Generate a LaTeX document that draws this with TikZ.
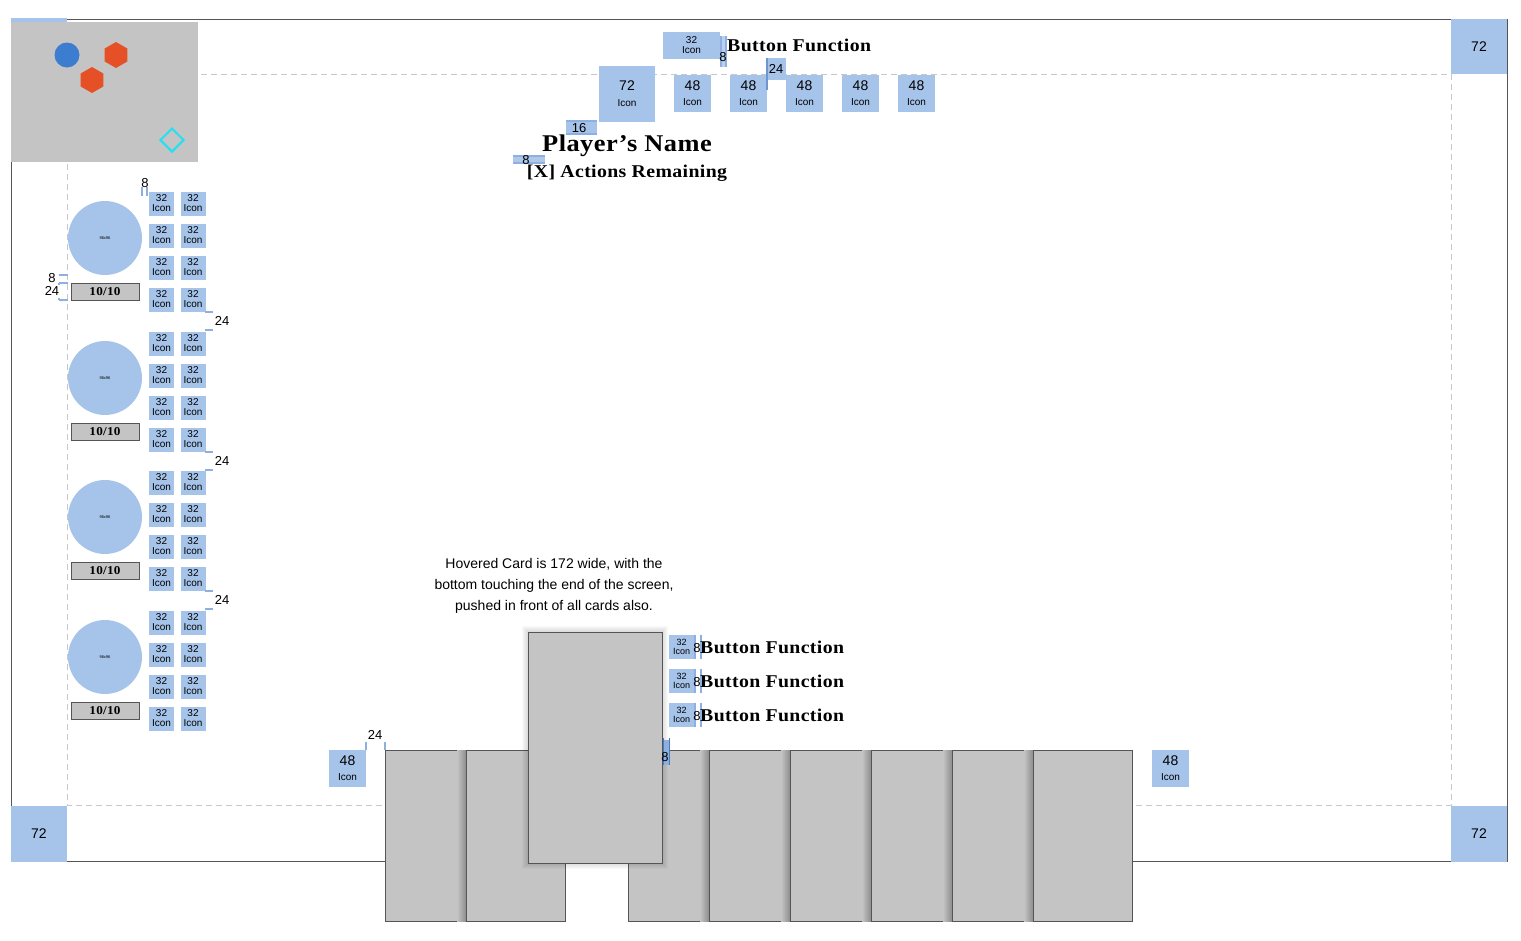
\documentclass[tikz,border=0pt]{standalone}
\usepackage{fontspec}
\setmainfont{Liberation Sans}
\newfontfamily\titlefont[FakeStretch=1.1, LetterSpace=2]{Liberation Serif}
\usetikzlibrary{shapes.geometric}

\definecolor{iconblue}{HTML}{A6C4EA}
\definecolor{markblue}{HTML}{8DB0E0}
\definecolor{darkmark}{HTML}{4A7CC4}
\definecolor{cardgray}{HTML}{C4C4C4}
\definecolor{edgegray}{HTML}{555555}
\definecolor{safegray}{HTML}{C8C8C8}
\definecolor{unitblue}{HTML}{3C7DD0}
\definecolor{enemyred}{HTML}{E55027}
\definecolor{cyanmark}{HTML}{22E0F2}

\tikzset{
  icon/.style={fill=iconblue, inner sep=0pt, align=center, font=\fontsize{10}{10}\selectfont},
  smallicon/.style={icon, minimum width=25pt, minimum height=24pt},
  midicon/.style={icon, minimum size=37pt, font=\fontsize{14}{15}\selectfont},
  bigicon/.style={icon, minimum size=56pt, font=\fontsize{14}{16}\selectfont},
  card/.style={fill=cardgray, draw=edgegray, line width=0.8pt},
  gapmark/.style={markblue, line width=1.2pt},
  gapnum/.style={font=\fontsize{13}{13}\selectfont, inner sep=0pt},
  btntext/.style={font=\titlefont\bfseries\fontsize{18}{18}\selectfont, inner sep=0pt, anchor=west},
  hpbar/.style={fill=cardgray, draw=edgegray, line width=0.8pt, minimum width=68pt, minimum height=17pt,
    inner sep=0pt, font=\titlefont\bfseries\fontsize{12}{12}\selectfont},
}

\begin{document}
\begin{tikzpicture}[x=1pt, y=-1pt]
  \useasboundingbox (0,0) rectangle (1521,940);

  % screen and safe area
  \draw[edgegray, line width=0.9pt] (11,19) rectangle (1507,861);
  \draw[safegray, line width=1pt, dash pattern=on 6pt off 4pt] (67,74) rectangle (1451,805);
  \node[bigicon, minimum height=55pt] (cornerTR) at (1479,46.5) {72};
  \node[bigicon] (cornerBL) at (39,834) {72};
  \node[bigicon] (cornerBR) at (1479,834) {72};
  \fill[iconblue] (11,18) rectangle (67,22);

  % minimap
  \node[fill=cardgray, minimum width=187pt, minimum height=140pt, inner sep=0pt, anchor=north west] (minimap) at (11,22) {};
  \node[circle, fill=unitblue, minimum size=25pt, inner sep=0pt] (unit) at (67,55) {};
  \node[regular polygon, regular polygon sides=6, shape border rotate=30, fill=enemyred, minimum size=26pt, inner sep=0pt] (foeA) at (116,55) {};
  \node[regular polygon, regular polygon sides=6, shape border rotate=30, fill=enemyred, minimum size=26pt, inner sep=0pt] (foeB) at (92,80) {};
  \node[diamond, draw=cyanmark, line width=2pt, minimum size=24pt, inner sep=0pt] (goal) at (172,140) {};

  % top bar
  \node[icon, minimum width=57pt, minimum height=27pt] (topbtn) at (691.5,45.5) {32\\Icon};
  \fill[markblue!60] (720,36) rectangle (727,67);
  \draw[gapmark] (721,36) -- (721,67) (726,36) -- (726,67);
  \node[gapnum] (gapA) at (723,57) {8};
  \node[btntext] (topfn) at (727,45) {Button Function};
  \node[bigicon] (portrait) at (627,94) {72\\{\fontsize{10}{13}\selectfont Icon}};
  \foreach \i/\x in {1/692.5,2/748.5,3/804.5,4/860.5,5/916.5}
    \node[midicon] (act\i) at (\x,93.5) {48\\{\fontsize{10}{12}\selectfont Icon}};
  \fill[iconblue] (767,58) rectangle (786,80);
  \draw[darkmark!80, line width=1.2pt] (767,58) -- (767,90);
  \node[gapnum] (gapB) at (776,69) {24};
  \fill[iconblue] (566,121) rectangle (597,134);
  \draw[gapmark] (566,121) -- (597,121) (566,134) -- (597,134);
  \node[gapnum] (gapC) at (579,128) {16};
  \node[font=\titlefont\bfseries\fontsize{24}{24}\selectfont, inner sep=0pt] (pname) at (627,146) {Player’s Name};
  \fill[markblue!70] (513,156) rectangle (545,163);
  \draw[gapmark] (513,156) -- (545,156) (513,163) -- (545,163);
  \node[gapnum] (gapD) at (526,160) {8};
  \node[font=\titlefont\bfseries\fontsize{18}{18}\selectfont, inner sep=0pt] (actions) at (627,173) {[X] Actions Remaining};

  % party column
  \node[gapnum] (gapE) at (145,183) {8};
  \draw[gapmark] (142,187) -- (142,196) (147,187) -- (147,196);
  \node[gapnum] (gapF) at (52,278) {8};
  \node[gapnum] (gapG) at (52,291) {24};
  \draw[gapmark] (59,275) -- (68,275) (59,283) -- (68,283) (59,300) -- (68,300) (59,283) -- (59,285) (59,300) -- (59,298);
  \foreach \g/\oy in {0/0,1/140,2/279,3/419} {
    \node[circle, fill=iconblue, minimum size=74pt, inner sep=0pt, font=\fontsize{4}{4}\selectfont] (hero\g) at (105,238+\oy) {96x96};
    \node[hpbar] (hp\g) at (105,291.5+\oy) {10/10};
    \foreach \c/\x in {0/161.5,1/193}
      \foreach \r in {0,...,3}
        \node[smallicon] (buff\g\c\r) at (\x,203.5+32*\r+\oy) {32\\Icon};
  }
  \foreach \oy in {0,140,279} {
    \draw[gapmark] (205,312+\oy) -- (213,312+\oy) (205,330+\oy) -- (213,330+\oy);
    \node[gapnum] at (222,321+\oy) {24};
  }

  % hand of cards
  \node[midicon] (deck) at (347.5,768.5) {48\\{\fontsize{10}{12}\selectfont Icon}};
  \node[midicon] (discard) at (1170.5,768.5) {48\\{\fontsize{10}{12}\selectfont Icon}};
  \draw[gapmark] (366,742) -- (366,750) (385,742) -- (385,750);
  \node[gapnum] (gapH) at (375,735) {24};
  \foreach \x in {385,466,628,709,790,871,952,1033} {
    \ifnum\x=385\else\ifnum\x=628\else
      \shade[left color=cardgray, right color=black!45] (\x-9,750) rectangle (\x,921);
    \fi\fi
    \draw[card] (\x,750) rectangle (\x+99,921);
  }
  \foreach \d in {1,...,6}
    \fill[black, opacity=0.025] (528-\d,632-\d) rectangle (662+\d,863+\d);
  \draw[card] (528,632) rectangle (662,863);
  \node[align=center, font=\fontsize{14}{21}\selectfont] (hovernote) at (554,586)
    {Hovered Card is 172 wide, with the\\bottom touching the end of the screen,\\pushed in front of all cards also.};
  \fill[markblue] (663,740) rectangle (669,765);
  \draw[darkmark, line width=1pt] (663,738) -- (663,765) (669,738) -- (669,765);
  \node[gapnum] (gapI) at (665,757) {8};

  % card actions
  \foreach \i/\y in {1/647,2/681,3/715} {
    \node[smallicon, font=\fontsize{9}{9}\selectfont] (opt\i) at (681.5,\y) {32\\Icon};
    \draw[gapmark] (695,\y-12) -- (695,\y+12) (701,\y-12) -- (701,\y+12);
    \node[gapnum] at (697,\y+1) {8};
    \node[btntext] (fn\i) at (700,\y) {Button Function};
  }
\end{tikzpicture}
\end{document}
